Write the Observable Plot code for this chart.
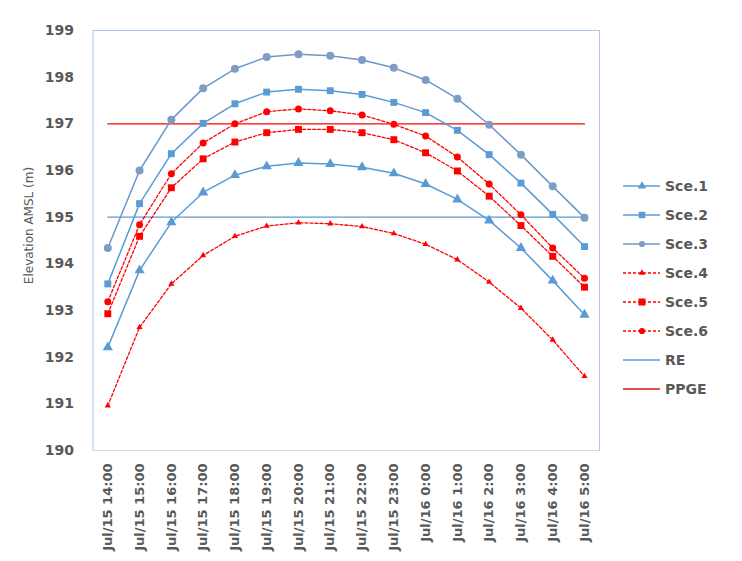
<!DOCTYPE html>
<html>
<head>
<meta charset="utf-8">
<script src="https://cdn.jsdelivr.net/npm/d3@7"></script>
<script src="https://cdn.jsdelivr.net/npm/@observablehq/plot@0.6"></script>
<style>
  html, body { margin: 0; padding: 0; background: #fff; }
  #wrap { position: relative; width: 742px; height: 561px; font-family: "DejaVu Sans", sans-serif; }
  #legend { position: absolute; left: 623px; top: 0; }
  .li { position: absolute; left: 0; height: 20px; display: flex; align-items: center; white-space: nowrap;
        font: bold 14px "DejaVu Sans", sans-serif; color: #595959; }
  .li svg { margin-right: 4px; }
  svg g[aria-label="y-axis tick label"] text, svg g[aria-label="x-axis tick label"] text { font-weight: bold; }
</style>
</head>
<body>
<div id="wrap"><div id="legend"></div></div>
<script>
const times = ["Jul/15 14:00","Jul/15 15:00","Jul/15 16:00","Jul/15 17:00","Jul/15 18:00","Jul/15 19:00",
  "Jul/15 20:00","Jul/15 21:00","Jul/15 22:00","Jul/15 23:00","Jul/16 0:00","Jul/16 1:00",
  "Jul/16 2:00","Jul/16 3:00","Jul/16 4:00","Jul/16 5:00"];
const sce1 = [192.21,193.86,194.89,195.53,195.90,196.09,196.16,196.14,196.07,195.94,195.71,195.38,194.93,194.34,193.64,192.91];
const sce2 = [193.57,195.29,196.36,197.01,197.43,197.68,197.74,197.71,197.63,197.46,197.24,196.86,196.34,195.73,195.06,194.37];
const sce3 = [194.34,196.00,197.09,197.76,198.18,198.43,198.49,198.46,198.37,198.20,197.94,197.54,196.98,196.34,195.66,194.99];
const sce4 = [190.96,192.64,193.57,194.18,194.59,194.81,194.88,194.86,194.80,194.65,194.42,194.09,193.61,193.05,192.37,191.59];
const sce5 = [192.93,194.59,195.63,196.25,196.61,196.81,196.88,196.88,196.81,196.66,196.38,195.99,195.45,194.82,194.16,193.50];
const sce6 = [193.19,194.84,195.93,196.59,197.00,197.26,197.32,197.28,197.19,196.99,196.74,196.29,195.71,195.05,194.34,193.69];
const reLevel = 195;
const ppgeLevel = 197;
const yTicks = [190,191,192,193,194,195,196,197,198,199];
const yTitle = "Elevation AMSL (m)";

const blue = "#5b9bd5", red = "#ff0000";
const series = [
  {name: "Sce.1", values: sce1, stroke: blue, dash: null, symbol: "triangle", r: 3.8, fill: blue},
  {name: "Sce.2", values: sce2, stroke: blue, dash: null, symbol: "square", r: 3.9, fill: blue},
  {name: "Sce.3", values: sce3, stroke: "#6a98cc", dash: null, symbol: "circle", r: 4, fill: "#7f9dc4"},
  {name: "Sce.4", values: sce4, stroke: red, dash: "3,2", symbol: "triangle", r: 2.3, fill: red},
  {name: "Sce.5", values: sce5, stroke: red, dash: "3,2", symbol: "square", r: 3.9, fill: red},
  {name: "Sce.6", values: sce6, stroke: red, dash: "3,2", symbol: "circle", r: 3.5, fill: red}
];
const refs = [
  {name: "RE", level: reLevel, stroke: blue},
  {name: "PPGE", level: ppgeLevel, stroke: red}
];

const marks = [
  Plot.frame({stroke: "#a9c6e8"}),
  Plot.ruleY([190], {stroke: "#d9d9d9"}),
  Plot.axisY({ticks: yTicks, tickSize: 0, tickPadding: 19, tickFormat: d => String(d), fontSize: 14, fontWeight: "bold", fill: "#595959", label: null}),
  Plot.axisX({tickRotate: -90, tickSize: 0, tickPadding: 13, fontSize: 13, fontWeight: "bold", fill: "#595959", label: null}),
  Plot.text([yTitle], {text: d => d, frameAnchor: "left", textAnchor: "middle", dx: -64, dy: -15, rotate: -90, fontSize: 12, fill: "#595959"})
];
for (const ref of refs) {
  marks.push(Plot.line(times, {x: d => d, y: () => ref.level, stroke: ref.stroke, strokeWidth: 1.3}));
}
for (const s of series) {
  const rows = s.values.map((v, i) => ({time: times[i], value: v}));
  marks.push(Plot.line(rows, {x: "time", y: "value", stroke: s.stroke, strokeWidth: s.dash ? 1.3 : 1.5, strokeDasharray: s.dash}));
  marks.push(Plot.dot(rows, {x: "time", y: "value", symbol: () => s.symbol, r: s.r, fill: s.fill, stroke: "none"}));
}

const chart = Plot.plot({
  width: 742, height: 561,
  marginLeft: 92.5, marginRight: 143, marginTop: 30, marginBottom: 111,
  style: {fontFamily: "DejaVu Sans, sans-serif", background: "white", overflow: "visible"},
  x: {type: "point", domain: times, range: [107.3, 584], padding: 0, round: false, label: null},
  y: {domain: [190, 199], label: null},
  symbol: {type: "identity"},
  marks
});
document.getElementById("wrap").prepend(chart);

// legend
const legend = document.getElementById("legend");
const items = [...series.map(s => ({...s})), ...refs.map(r => ({name: r.name, stroke: r.stroke, dash: null, symbol: null}))];
const legendSize = {"Sce.1": 30, "Sce.2": 42, "Sce.3": 30, "Sce.4": 18, "Sce.5": 49, "Sce.6": 30};
items.forEach((it, i) => {
  const div = document.createElement("div");
  div.className = "li";
  div.style.top = (186 + 29 * i - 10) + "px";
  const sw = d3.create("svg").attr("width", 38).attr("height", 12);
  sw.append("line").attr("x1", 0).attr("x2", 37).attr("y1", 6).attr("y2", 6)
    .attr("stroke", it.name === "PPGE" ? "#e05252" : it.stroke).attr("stroke-width", it.name === "PPGE" ? 2 : 1.3)
    .attr("stroke-dasharray", it.dash);
  if (it.symbol) {
    const sym = {triangle: d3.symbolTriangle, square: d3.symbolSquare, circle: d3.symbolCircle}[it.symbol];
    sw.append("path").attr("transform", "translate(19,6)").attr("d", d3.symbol(sym, legendSize[it.name])()).attr("fill", it.fill);
  }
  div.appendChild(sw.node());
  const sp = document.createElement("span");
  sp.textContent = it.name;
  div.appendChild(sp);
  legend.appendChild(div);
});
</script>
</body>
</html>
